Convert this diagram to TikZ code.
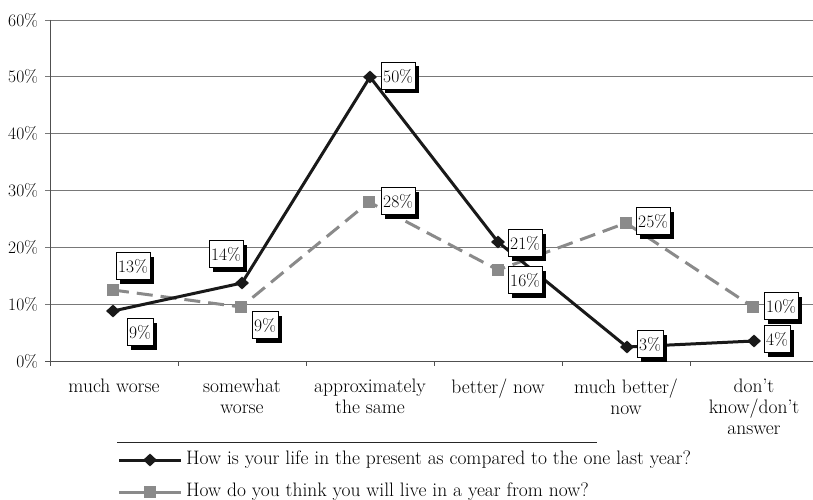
\documentclass[tikz,border=0pt]{standalone}
\usepackage{tikz}
\usetikzlibrary{positioning}
\usetikzlibrary{shapes.geometric, shadows}
\definecolor{seriesgray}{RGB}{138,138,138}
\definecolor{gridgray}{RGB}{120,120,120}
\definecolor{axisgray}{RGB}{80,80,80}
\tikzstyle{txt} = [font=\fontsize{19.5}{21}\selectfont, inner sep=0pt]
\tikzstyle{ylab} = [font=\fontsize{17.5}{21}\selectfont, inner sep=0pt, anchor=east]
\tikzstyle{pctbox} = [draw=black, fill=white, font=\fontsize{17.5}{21}\selectfont, inner xsep=2pt, minimum height=27pt, drop shadow={shadow xshift=4pt, shadow yshift=-4pt, fill=black, opacity=1}]
\tikzstyle{presmark} = [diamond, fill=black!90, inner sep=0pt, minimum width=14pt, minimum height=13pt]
\tikzstyle{futmark} = [rectangle, fill=seriesgray, inner sep=0pt, minimum size=12pt]
\tikzstyle{presline} = [line width=3pt, black!90]
\tikzstyle{futline} = [line width=3pt, seriesgray, dash pattern=on 16pt off 8pt]
\tikzstyle{grid} = [gridgray, line width=0.8pt]

\begin{document}
\begin{tikzpicture}[x=1pt, y=-1pt]
\useasboundingbox (0,0) rectangle (813,500);
% grid lines and y labels
\draw[grid] (45,20)--(813,20);
\draw[grid] (45,76.8)--(813,76.8);
\draw[grid] (45,133.7)--(813,133.7);
\draw[grid] (45,190.5)--(813,190.5);
\draw[grid] (45,247.3)--(813,247.3);
\draw[grid] (45,304.2)--(813,304.2);
\node[ylab] (y60) at (38,20) {60\%};
\node[ylab] (y50) at (38,76.8) {50\%};
\node[ylab] (y40) at (38,133.7) {40\%};
\node[ylab] (y30) at (38,190.5) {30\%};
\node[ylab] (y20) at (38,247.3) {20\%};
\node[ylab] (y10) at (38,304.2) {10\%};
\node[ylab] (y0) at (38,361) {0\%};
% axes
\draw[axisgray, line width=1pt] (50,20)--(50,366);
\draw[axisgray, line width=1pt] (45,361)--(813,361);
\draw[axisgray, line width=1pt] (178,361)--(178,366);
\draw[axisgray, line width=1pt] (306,361)--(306,366);
\draw[axisgray, line width=1pt] (434,361)--(434,366);
\draw[axisgray, line width=1pt] (562,361)--(562,366);
\draw[axisgray, line width=1pt] (690,361)--(690,366);
% categories
\node[txt, anchor=north, align=center] (c1) at (114,379) {much worse};
\node[txt, anchor=north, align=center] (c2) at (242,379) {somewhat\\worse};
\node[txt, anchor=north, align=center] (c3) at (370,379) {approximately\\the same};
\node[txt, anchor=north, align=center] (c4) at (498,379) {better/ now};
\node[txt, anchor=north, align=center] (c5) at (626,379) {much better/\\now};
\node[txt, anchor=north, align=center] (c6) at (754,379) {don't\\know/don't\\answer};
% data points
\coordinate (p1) at (113,311);
\coordinate (p2) at (242,283);
\coordinate (p3) at (370,77);
\coordinate (p4) at (498,242);
\coordinate (p5) at (627,347);
\coordinate (p6) at (754,341);
\coordinate (f1) at (113,290);
\coordinate (f2) at (241,307);
\coordinate (f3) at (369,202);
\coordinate (f4) at (498,270);
\coordinate (f5) at (626,223);
\coordinate (f6) at (753,307);
\draw[futline] (f1)--(f2)--(f3)--(f4)--(f5)--(f6);
\draw[presline] (p1)--(p2)--(p3)--(p4)--(p5)--(p6);
\node[futmark] at (f1) {};
\node[futmark] at (f2) {};
\node[futmark] at (f3) {};
\node[futmark] at (f4) {};
\node[futmark] at (f5) {};
\node[futmark] at (f6) {};
\node[presmark] at (p1) {};
\node[presmark] at (p2) {};
\node[presmark] at (p3) {};
\node[presmark] at (p4) {};
\node[presmark] at (p5) {};
\node[presmark] at (p6) {};
% value labels
\node[pctbox] (lf1) at (133,266) {13\%};
\node[pctbox] (lp1) at (140,332) {9\%};
\node[pctbox] (lp2) at (226,254) {14\%};
\node[pctbox] (lf2) at (265,325) {9\%};
\node[pctbox] (lp3) at (398,76) {50\%};
\node[pctbox] (lf3) at (398,201) {28\%};
\node[pctbox] (lp4) at (525,243) {21\%};
\node[pctbox] (lf4) at (525,280) {16\%};
\node[pctbox] (lf5) at (653,221) {25\%};
\node[pctbox] (lp5) at (650,344) {3\%};
\node[pctbox] (lf6) at (781,306) {10\%};
\node[pctbox] (lp6) at (777,339) {4\%};
% legend
\draw[black!85, line width=0.8pt] (117,442)--(597,442);
\coordinate (a1) at (119,460);
\coordinate (a2) at (181,460);
\coordinate (b1) at (119,492);
\coordinate (b2) at (181,492);
\draw[presline] (a1)--(a2);
\node[presmark] (am) at (150,460) {};
\draw[seriesgray, line width=3pt] (b1)--(b2);
\node[futmark] (bm) at (150,492) {};
\node[txt, anchor=west] (leg1) at (186,460) {How is your life in the present as compared to the one last year?};
\node[txt, anchor=west] (leg2) at (186,492) {How do you think you will live in a year from now?};
\end{tikzpicture}
\end{document}
